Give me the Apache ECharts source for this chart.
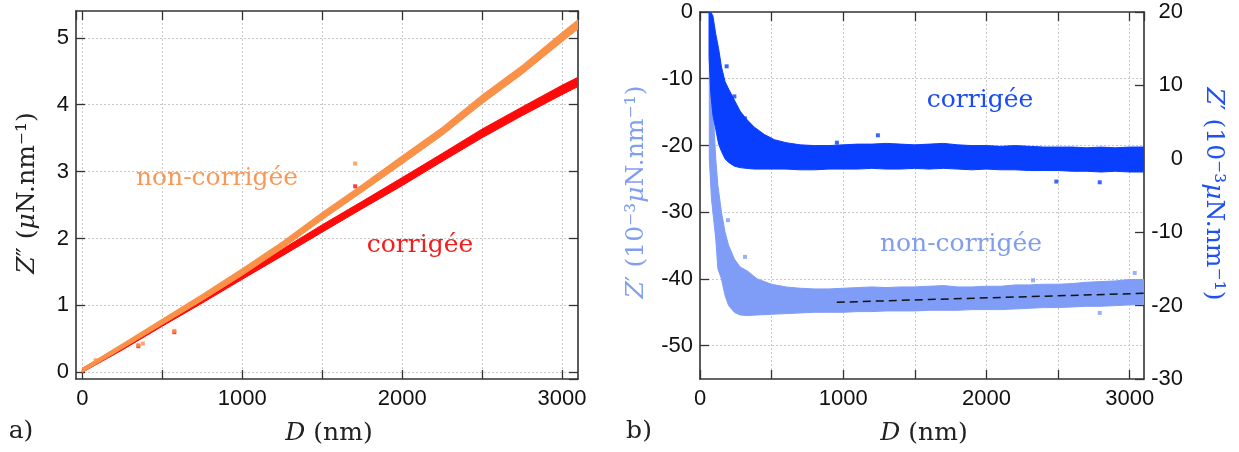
<!DOCTYPE html>
<html><head><meta charset="utf-8">
<script src="https://cdn.jsdelivr.net/npm/echarts@6/dist/echarts.min.js"></script>
<style>html,body{margin:0;padding:0;background:#fff}#c{width:1239px;height:452px}</style>
</head><body><div id="c"></div>
<script>
// ---------- Panel a : Z'' vs D ----------
const dA = [0,250,500,750,1000,1250,1500,1750,2000,2250,2500,2750,3000,3100];
const nonCorrLowA  = [0.00,0.355,0.715,1.075,1.45,1.85,2.28,2.695,3.115,3.54,4.015,4.455,4.94,5.13];
const nonCorrHighA = [0.06,0.425,0.795,1.165,1.55,1.95,2.39,2.805,3.235,3.66,4.145,4.585,5.08,5.27];
const corrLowA  = [0.00,0.335,0.69,1.035,1.39,1.74,2.095,2.445,2.79,3.15,3.505,3.835,4.15,4.27];
const corrHighA = [0.06,0.405,0.77,1.125,1.49,1.84,2.205,2.555,2.91,3.27,3.635,3.965,4.29,4.41];
const nonCorrOutDA = [83,350,378,575,1706];
const nonCorrOutZA = [0.18,0.41,0.43,0.62,3.12];
const corrOutDA = [350,575,1706];
const corrOutZA = [0.39,0.60,2.78];
const xLabelsA = [0,1000,2000,3000];
const yLabelsA = [0,1,2,3,4,5];

// ---------- Panel b : Z' vs D ----------
const dCorrB = [63,75,90,110,130,150,175,200,240,280,320,380,450,520,600,700,800,900,1000,1100,1200,1300,1400,1500,1600,1700,1800,1900,2000,2100,2200,2300,2400,2500,2600,2700,2800,2900,3000,3100];
const corrHighB = [20,20,19.5,17,15,12.5,10.5,9.5,8,6.5,5.5,4.3,3.3,2.6,2.2,1.9,1.8,1.8,1.9,2.0,2.0,2.1,2.0,1.9,2.0,2.1,1.9,1.8,1.8,1.7,1.8,1.7,1.6,1.6,1.6,1.5,1.6,1.5,1.6,1.6];
const corrLowB  = [14,9,6,4,2,1,0,-0.5,-1,-1.2,-1.3,-1.4,-1.4,-1.4,-1.4,-1.5,-1.5,-1.4,-1.4,-1.4,-1.3,-1.4,-1.4,-1.3,-1.4,-1.3,-1.4,-1.5,-1.4,-1.5,-1.5,-1.6,-1.6,-1.6,-1.7,-1.7,-1.8,-1.7,-1.8,-1.8];
const dNonCorrB = [65,80,95,110,125,150,175,200,240,280,330,400,500,600,700,800,900,1000,1100,1200,1300,1400,1500,1600,1700,1800,1900,2000,2100,2200,2300,2400,2500,2600,2700,2800,2900,3000,3100];
const nonCorrHighB = [-7,-12,-16,-22,-26,-30,-33,-35,-37,-38.2,-38.8,-40.0,-40.8,-41.2,-41.4,-41.5,-41.5,-41.4,-41.3,-41.2,-41.3,-41.2,-41.2,-41.1,-41.0,-41.2,-41.2,-41.1,-41.1,-40.9,-40.9,-40.8,-40.8,-40.7,-40.5,-40.4,-40.3,-40.1,-40.1];
const nonCorrLowB  = [-22,-28,-31,-34,-38.5,-40,-42.5,-44,-45,-45.4,-45.5,-45.4,-45.3,-45.2,-45.1,-45.0,-45.0,-45.0,-44.9,-44.9,-44.8,-44.8,-44.8,-44.7,-44.7,-44.7,-44.6,-44.6,-44.6,-44.5,-44.4,-44.3,-44.3,-44.2,-44.1,-44.1,-44.0,-43.9,-43.8];
const corrOutDB = [186,240,314,956,1242,2488,2791];
const corrOutZB = [12.6,8.5,5.5,2.2,3.2,-3.1,-3.2];
const nonCorrOutDB = [195,314,2325,3035,2791];
const nonCorrOutZB = [-31.2,-36.7,-40.2,-39.1,-45.1];
const fitD = [955,3100];
const fitZ = [-43.5,-42.15];
const xLabelsB = [0,1000,2000,3000];
const yLeftLabelsB = [0,-10,-20,-30,-40,-50];
const yRightLabelsB = [20,10,0,-10,-20,-30];

// ---------- styles ----------
const FRAME = '#333333';
const GRIDC = '#c8c8c8';
const ORANGE = '#FA9149', RED = '#FF0A0A', DBLUE = '#0A3EFF', LBLUE = '#7F9DF6';
const tickFont = {fontFamily: 'Liberation Sans', fontSize: 22, color: '#111'};

function band(xs, lo, hi) { return xs.map((x, i) => [x, lo[i], hi[i]]); }
function bandRender(xs, lo, hi, color) {
  return function (params, api) {
    if (params.dataIndex !== 0) return null;
    const pts = [];
    for (let i = 0; i < xs.length; i++) pts.push(api.coord([xs[i], hi[i]]));
    for (let i = xs.length - 1; i >= 0; i--) pts.push(api.coord([xs[i], lo[i]]));
    return {type: 'polygon', shape: {points: pts}, style: {fill: color, stroke: color, lineWidth: 1}};
  };
}
function bandSeries(xi, yi, xs, lo, hi, color) {
  return {type: 'custom', xAxisIndex: xi, yAxisIndex: yi, clip: true, silent: true,
    data: band(xs, lo, hi), encode: {x: 0, y: [1, 2]}, renderItem: bandRender(xs, lo, hi, color)};
}
function pts(xs, ys) { return xs.map((x, i) => [x, ys[i]]); }
function outSeries(xi, yi, xs, ys, color) {
  return {type: 'scatter', xAxisIndex: xi, yAxisIndex: yi, symbol: 'rect', symbolSize: 4,
    itemStyle: {color: color}, data: pts(xs, ys), silent: true};
}

const lineCommon = {show: true, onZero: false, lineStyle: {color: FRAME, width: 1.6}};
const tickCommon = {show: true, inside: true, length: 9, lineStyle: {color: FRAME, width: 1.3}};
const splitCommon = {show: true, showMinLine: false, showMaxLine: false, lineStyle: {color: GRIDC, type: [2, 2], width: 1}};

function xAx(grid, pos, min, max, labels) {
  return {gridIndex: grid, type: 'value', position: pos, min: min, max: max, minInterval: 500, maxInterval: 500,
    axisLine: lineCommon, axisTick: tickCommon,
    axisLabel: labels ? Object.assign({show: true, margin: 9, showMinLabel: labels.includes(min), showMaxLabel: labels.includes(max),
      formatter: v => labels.includes(v) ? String(v) : ''}, tickFont) : {show: false},
    splitLine: labels ? splitCommon : {show: false}};
}
function yAx(grid, pos, min, max, step, labels, split, extraLabel) {
  return {gridIndex: grid, type: 'value', position: pos, min: min, max: max, minInterval: step, maxInterval: step,
    axisLine: lineCommon, axisTick: tickCommon,
    axisLabel: labels ? Object.assign({show: true, margin: 7, showMinLabel: labels.includes(min), showMaxLabel: labels.includes(max),
      formatter: v => labels.includes(v) ? String(v) : ''}, tickFont, extraLabel || {}) : {show: false},
    splitLine: split ? splitCommon : {show: false}};
}

function txt(x, y, text, color, rot, size) {
  const fs = size || 25;
  return {type: 'text', x: x, y: y, rotation: rot || 0, z: 100, silent: true,
    style: {text: text, x: 0, y: 0, fill: color, fontFamily: 'DejaVu Serif', fontSize: fs,
      align: 'center', verticalAlign: 'middle', textAlign: 'center', textVerticalAlign: 'middle',
      rich: {it: {fontStyle: 'italic', fontFamily: 'DejaVu Serif', fontSize: fs, fill: color}}}};
}

const chart = echarts.init(document.getElementById('c'), null, {renderer: 'canvas'});
chart.setOption({
  animation: false,
  backgroundColor: '#fff',
  grid: [
    {left: 76, top: 11, width: 502, height: 368},
    {left: 700, top: 12, width: 444, height: 367}
  ],
  xAxis: [
    xAx(0, 'bottom', -40, 3100, xLabelsA),
    xAx(0, 'top', -40, 3100, null),
    xAx(1, 'bottom', 0, 3100, xLabelsB),
    xAx(1, 'top', 0, 3100, null)
  ],
  yAxis: [
    yAx(0, 'left', -0.1, 5.4, 1, yLabelsA, true),
    yAx(0, 'right', -0.1, 5.4, 1, null, false),
    yAx(1, 'left', -55, 0, 10, yLeftLabelsB, true),
    yAx(1, 'right', -30, 20, 10, yRightLabelsB, false, {align: 'right', margin: 39})
  ],
  series: [
    bandSeries(0, 0, dA, corrLowA, corrHighA, RED),
    bandSeries(0, 0, dA, nonCorrLowA, nonCorrHighA, ORANGE),
    outSeries(0, 0, corrOutDA, corrOutZA, RED),
    outSeries(0, 0, nonCorrOutDA, nonCorrOutZA, ORANGE),
    bandSeries(2, 2, dNonCorrB, nonCorrLowB, nonCorrHighB, LBLUE),
    outSeries(2, 2, nonCorrOutDB, nonCorrOutZB, LBLUE),
    bandSeries(2, 3, dCorrB, corrLowB, corrHighB, DBLUE),
    outSeries(2, 3, corrOutDB, corrOutZB, DBLUE),
    {type: 'line', xAxisIndex: 2, yAxisIndex: 2, data: pts(fitD, fitZ), symbol: 'none', silent: true,
      lineStyle: {color: '#111', width: 1.5, type: [8, 5]}, z: 5}
  ],
  graphic: [
    txt(27, 193, '{it|Z}″ ({it|μ}N.nm⁻¹)', '#222', Math.PI / 2),
    txt(329, 433, '{it|D} (nm)', '#222', 0),
    txt(21, 431, 'a)', '#222', 0),
    txt(217, 178, 'non-corrigée', '#F79A58', 0),
    txt(420, 245, 'corrigée', '#F41C1C', 0),
    txt(636, 192, '{it|Z}′ (10⁻³{it|μ}N.nm⁻¹)', '#7F9FF0', Math.PI / 2),
    txt(1213, 194, '{it|Z}′ (10⁻³{it|μ}N.nm⁻¹)', '#1E50F5', -Math.PI / 2),
    txt(924, 433, '{it|D} (nm)', '#222', 0),
    txt(639, 431, 'b)', '#222', 0),
    txt(980, 100, 'corrigée', '#1B4CF2', 0),
    txt(961, 244, 'non-corrigée', '#809EEA', 0)
  ]
});
</script></body></html>
